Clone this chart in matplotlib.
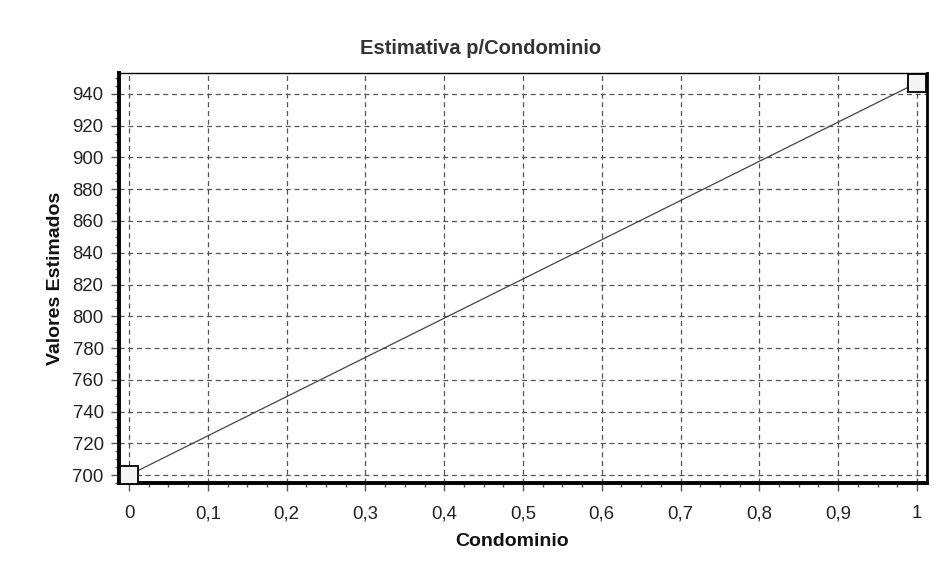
import numpy as np
import matplotlib
matplotlib.use("Agg")
import matplotlib.pyplot as plt
from matplotlib.ticker import MultipleLocator, AutoMinorLocator, FuncFormatter

# dados
condominio = [0.0, 1.0]
valores = [700.0, 947.0]


def fmt_virgula(v, pos):
    if abs(v - round(v)) < 1e-9:
        return f"{v:.0f}"
    return f"{v:.1f}".replace(".", ",")


plt.rcParams.update({
    "font.family": ["Liberation Sans", "DejaVu Sans"],
    "font.size": 13,
})

fig = plt.figure(figsize=(9.4, 5.67), dpi=100)
ax = fig.add_axes([119 / 940, 1 - 483 / 567, (927 - 119) / 940, (483 - 73) / 567])

ax.plot(condominio, valores, color="#444444", lw=0.9)
ax.plot(condominio, valores, ls="none", marker="s", ms=13, mfc="#f4f4f4",
        mec="black", mew=1.3, clip_on=False, zorder=5)

ax.set_xlim(-0.0127, 1.0127)
ax.set_ylim(695, 953.2)
ax.xaxis.set_major_locator(MultipleLocator(0.1))
ax.yaxis.set_major_locator(MultipleLocator(20))
ax.xaxis.set_minor_locator(AutoMinorLocator(4))
ax.yaxis.set_minor_locator(AutoMinorLocator(4))
ax.xaxis.set_major_formatter(FuncFormatter(fmt_virgula))
ax.yaxis.set_major_formatter(FuncFormatter(lambda v, p: f"{v:.0f}"))

ax.grid(True, which="major", color="#555555", ls=(0, (4, 3)), lw=0.9)
ax.tick_params(which="major", direction="out", length=6, width=1, labelsize=13.4,
               color="#555555", labelcolor="#222222")
ax.tick_params(axis="x", which="major", pad=10)
ax.tick_params(axis="y", which="major", pad=5)
ax.tick_params(which="minor", direction="out", length=3, width=1, color="#555555")

ax.spines["left"].set_linewidth(2.8)
ax.spines["bottom"].set_linewidth(2.8)
ax.spines["right"].set_linewidth(2.0)
ax.spines["top"].set_linewidth(1.0)

ax.set_title("Estimativa p/Condominio", fontsize=14.5, fontweight="bold",
             color="#333333", pad=14, x=0.448)
ax.set_xlabel("Condominio", fontsize=14, fontweight="bold", labelpad=8,
              color="#111111", x=0.486)
ax.set_ylabel("Valores Estimados", fontsize=14, fontweight="bold", labelpad=6, color="#111111")

fig.savefig("out.png", dpi=100)
